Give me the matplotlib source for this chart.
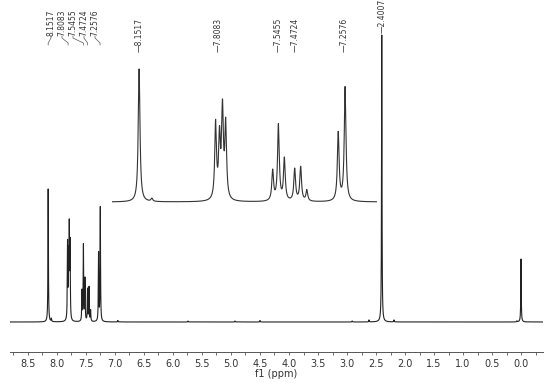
import numpy as np
import matplotlib
matplotlib.use('Agg')
import matplotlib.pyplot as plt
from matplotlib.ticker import MultipleLocator, FormatStrFormatter

# peak positions (ppm) and heights (relative intensity)
peak_ppm = [8.1517, 8.096, 7.818, 7.801, 7.788, 7.774,
            7.569, 7.544, 7.518, 7.473, 7.447, 7.420,
            7.283, 7.253, 2.4007, 0.0]
peak_height = [133, 3, 76, 60, 88, 74,
               30, 76, 42, 32, 34, 11,
               68, 114, 287, 63]
# small impurity / satellite bumps
small_ppm = [6.95, 5.74, 4.93, 4.50, 2.91, 2.62, 2.19, 0.07]
small_height = [1.5, 1.0, 1.0, 1.5, 1.0, 2.0, 2.0, 1.0]

labels_left = ['8.1517', '7.8083', '7.5455', '7.4724', '7.2576']
labels_ppm = [8.1517, 7.8083, 7.5455, 7.4724, 7.2576]
label_main = '2.4007'

hw = 0.0045  # lorentzian half width (ppm)


def spectrum(x):
    y = np.zeros_like(x)
    for p, h in zip(peak_ppm + small_ppm, peak_height + small_height):
        y += h / (1 + ((x - p) / hw) ** 2)
    return y


W, H = 550, 383
fig = plt.figure(figsize=(5.5, 3.83), dpi=100)

# main spectrum
ax = fig.add_axes([10 / W, 31 / H, 533 / W, 352 / H])
x = np.linspace(-0.38, 8.81, 40000)
ax.plot(x, spectrum(x), color='#222222', lw=0.8)
ax.set_xlim(8.81, -0.379)
ax.set_ylim(-30, 322)
for s in ['top', 'left', 'right']:
    ax.spines[s].set_visible(False)
ax.spines['bottom'].set_color('#555555')
ax.spines['bottom'].set_linewidth(0.7)
ax.set_yticks([])
ax.xaxis.set_major_locator(MultipleLocator(0.5))
ax.xaxis.set_minor_locator(MultipleLocator(0.25))
ax.xaxis.set_major_formatter(FormatStrFormatter('%.1f'))
ax.tick_params(axis='x', which='both', direction='out', length=2.5, width=0.6,
               color='#555555', labelsize=7, labelcolor='#333333', pad=2.5)
ax.set_xlabel('f1 (ppm)', fontsize=7, color='#333333', labelpad=0)

# 2.4007 label right above its peak
ax.text(2.4007, 289, '\u2014' + label_main, rotation=90, ha='center', va='bottom',
        fontsize=5.5, color='#333333')

# crowded aromatic labels with bent leader lines
label_px = [51, 62, 73, 84, 95]
for lx, lab, p in zip(label_px, labels_left, labels_ppm):
    lp = (521 - lx) / 58
    ax.text(lp, 286, lab, rotation=90, ha='center', va='bottom', fontsize=5.5,
            color='#333333')
    ax.plot([lp, lp, p, p], [286, 284, 279, 277], color='#555555', lw=0.5,
            clip_on=False)

# expanded aromatic region
ax2 = fig.add_axes([112 / W, (383 - 204) / H, 265 / W, 204 / H])
x2 = np.linspace(7.114, 8.27, 6000)
ax2.plot(x2, spectrum(x2), color='#333333', lw=0.8)
ax2.set_xlim(8.27, 7.114)
ax2.set_ylim(-2, 202)
ax2.axis('off')
for lab, p in zip(labels_left, labels_ppm):
    ax2.text(p, 150, '\u2014' + lab, rotation=90, ha='center', va='bottom',
             fontsize=5.5, color='#333333')

fig.savefig('out.png', dpi=100)
